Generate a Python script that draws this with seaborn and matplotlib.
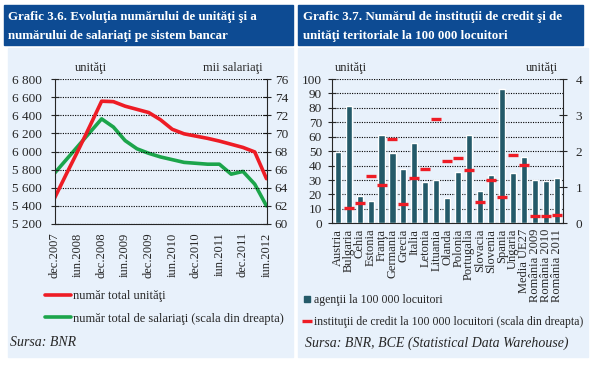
import numpy as np
import matplotlib
matplotlib.use('Agg')
import matplotlib.pyplot as plt
import seaborn as sns
from matplotlib.patches import Rectangle
from matplotlib.lines import Line2D

# --- date grafic 3.6 (trimestrial, dec.2007 - iun.2012) ---
trimestre = np.arange(19)
unitati = [5485, 5750, 6010, 6280, 6555, 6550, 6500, 6465, 6430, 6350, 6245, 6195,
           6170, 6145, 6115, 6080, 6045, 5995, 5700]
salariati = [65.6, 67.1, 68.6, 70.1, 71.6, 70.7, 69.2, 68.3, 67.8, 67.4, 67.1, 66.8,
             66.7, 66.6, 66.6, 65.5, 65.8, 64.4, 62.0]
xtick_left = ['dec.2007', 'iun.2008', 'dec.2008', 'iun.2009', 'dec.2009',
              'iun.2010', 'dec.2010', 'iun.2011', 'dec.2011', 'iun.2012']
ytick_left = ['5 200', '5 400', '5 600', '5 800', '6 000', '6 200', '6 400', '6 600', '6 800']

# --- date grafic 3.7 ---
tari = ['Austria', 'Bulgaria', 'Cehia', 'Estonia', 'Franţa', 'Germania', 'Grecia',
        'Italia', 'Letonia', 'Lituania', 'Olanda', 'Polonia', 'Portugalia', 'Slovacia',
        'Slovenia', 'Spania', 'Ungaria', 'Media UE27', 'România 2009', 'România 2010',
        'România 2011']
agentii = [49.5, 81, 19, 15.5, 61.5, 48.5, 37.5, 55.5, 28.5, 30, 17.3, 35.3,
           61.2, 22.4, 33.6, 93.2, 35, 46, 30.2, 29, 31.5]
institutii = [np.nan, 0.43, 0.55, 1.3, 1.05, 2.35, 0.54, 1.26, 1.51, 2.88, 1.74, 1.82,
              1.48, 0.58, 1.21, 0.73, 1.89, 1.61, 0.21, 0.21, 0.23]

sns.set_style('white')
plt.rcParams['font.family'] = ['Liberation Serif', 'DejaVu Serif']

W, H = 615, 375
fig = plt.figure(figsize=(W / 100, H / 100), dpi=100)

TITLU = '#0d4b93'
FOND = '#e8f1fb'
ROSU = '#ee1c25'
VERDE = '#1ca54b'
BARA = '#245a69'


def rect(x0, y0, x1, y1):
    return [x0 / W, 1 - y1 / H, (x1 - x0) / W, (y1 - y0) / H]


def fx(x):
    return x / W


def fy(y):
    return 1 - y / H


def panou(x0, y0, x1, y1, culoare):
    fig.patches.append(Rectangle((fx(x0), fy(y1)), fx(x1) - fx(x0), fy(y0) - fy(y1),
                                 transform=fig.transFigure, color=culoare, zorder=-10))


panou(8, 48, 293, 357, FOND)
panou(298, 48, 588, 357, FOND)
panou(4, 5, 293, 45, TITLU)
panou(298, 5, 583, 45, TITLU)

fs_titlu = 9.4
fig.text(fx(8), fy(17), 'Grafic 3.6. Evoluţia numărului de unităţi şi a',
         color='white', weight='bold', fontsize=fs_titlu, va='center')
fig.text(fx(8), fy(36), 'numărului de salariaţi pe sistem bancar',
         color='white', weight='bold', fontsize=fs_titlu, va='center')
fig.text(fx(303), fy(17), 'Grafic 3.7. Numărul de instituţii de credit şi de',
         color='white', weight='bold', fontsize=fs_titlu, va='center')
fig.text(fx(303), fy(36), 'unităţi teritoriale la 100 000 locuitori',
         color='white', weight='bold', fontsize=fs_titlu, va='center')

# ---------------- grafic 3.6 ----------------
ax = fig.add_axes(rect(54.5, 79, 266.5, 224))
ax.patch.set_alpha(0)
sns.lineplot(x=trimestre, y=unitati, ax=ax, color=ROSU, lw=2.6)
ax.set_xlim(0, 18)
ax.set_ylim(5200, 6800)
ax.set_yticks(np.arange(5200, 6801, 200))
ax.set_yticklabels(ytick_left)
ax.set_xticks(np.arange(0, 19, 2))
ax.set_xticklabels(xtick_left, rotation=90)
ax.grid(axis='y', color='black', ls=(0, (1, 1.2)), lw=0.8)
ax.set_axisbelow(True)
for s in ['top', 'right']:
    ax.spines[s].set_visible(False)
ax.tick_params(axis='y', direction='inout', length=6, labelsize=9.5, pad=6)
ax.tick_params(axis='x', direction='out', length=4, labelsize=9, pad=2)

ax2 = ax.twinx()
sns.lineplot(x=trimestre, y=salariati, ax=ax2, color=VERDE, lw=2.6)
ax2.set_ylim(60, 76)
ax2.set_yticks(np.arange(60, 77, 2))
for s in ['top', 'left', 'bottom']:
    ax2.spines[s].set_visible(False)
ax2.tick_params(axis='y', direction='inout', length=6, labelsize=9.5, pad=3)
ax.set_zorder(ax2.get_zorder() + 1)

fig.text(fx(75), fy(68), 'unităţi', fontsize=9, va='center')
fig.text(fx(263), fy(68), 'mii salariaţi', fontsize=9, va='center', ha='right')

fig.legend(handles=[Line2D([], [], color=ROSU, lw=2.6),
                    Line2D([], [], color=VERDE, lw=2.6)],
           labels=['număr total unităţi', 'număr total de salariaţi (scala din dreapta)'],
           loc='upper left', bbox_to_anchor=(fx(45), fy(290)), frameon=False,
           fontsize=9, handlelength=2.1, handletextpad=0.15, labelspacing=0.85,
           borderaxespad=0, borderpad=0)
fig.text(fx(10), fy(343), 'Sursa: BNR', style='italic', fontsize=10, va='center')

# ---------------- grafic 3.7 ----------------
bx = fig.add_axes(rect(331.7, 79, 563.3, 223.3))
bx.patch.set_alpha(0)
poz = np.arange(len(tari))
sns.barplot(x=poz, y=agentii, ax=bx, color=BARA, width=0.56, saturation=1,
            native_scale=True)
bx.set_xlim(-0.55, len(tari) - 0.4)
bx.set_ylim(0, 100)
bx.set_yticks(np.arange(0, 101, 10))
bx.set_xticks(poz)
bx.set_xticklabels(tari, rotation=90)
bx.set_xticks(poz[:-1] + 0.5, minor=True)
bx.grid(axis='y', color='black', ls=(0, (1, 1.2)), lw=0.8)
bx.set_axisbelow(True)
for s in ['top', 'right']:
    bx.spines[s].set_visible(False)
bx.tick_params(axis='y', direction='inout', length=6, labelsize=9.5, pad=4)
bx.tick_params(axis='x', which='major', length=0, labelsize=9, pad=4)
bx.tick_params(axis='x', which='minor', direction='inout', length=5)
bx.set_xlabel('')

bx2 = bx.twinx()
bx2.plot(poz, institutii, ls='none', marker='_', ms=7, mew=2.4, color=ROSU)
bx2.set_ylim(0, 4)
bx2.set_yticks(np.arange(0, 5, 1))
for s in ['top', 'left', 'bottom']:
    bx2.spines[s].set_visible(False)
bx2.tick_params(axis='y', direction='inout', length=6, labelsize=9.5, pad=6)

fig.text(fx(335), fy(68), 'unităţi', fontsize=9, va='center')
fig.text(fx(558), fy(68), 'unităţi', fontsize=9, va='center', ha='right')

fig.legend(handles=[Line2D([], [], ls='none', marker='s', ms=5, color=BARA),
                    Line2D([], [], ls='none', marker='_', ms=7, mew=2.4, color=ROSU)],
           labels=['agenţii la 100 000 locuitori',
                   'instituţii de credit la 100 000 locuitori (scala din dreapta)'],
           loc='upper left', bbox_to_anchor=(fx(303), fy(294)), frameon=False,
           fontsize=8.5, handlelength=0.7, handletextpad=0.2, labelspacing=0.85,
           borderaxespad=0, borderpad=0)
fig.text(fx(305), fy(343), 'Sursa: BNR, BCE (Statistical Data Warehouse)',
         style='italic', fontsize=10, va='center')

fig.savefig('out.png', dpi=100, facecolor='white')
